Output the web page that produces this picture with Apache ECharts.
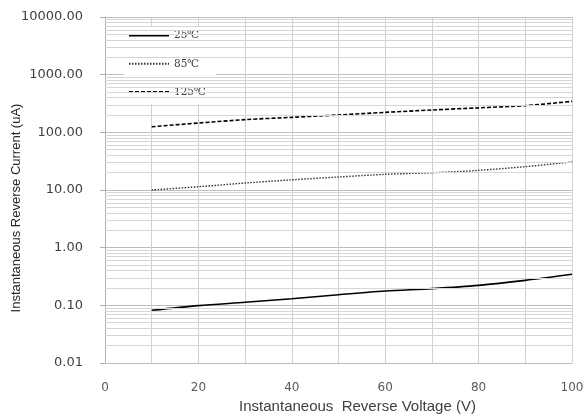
<!DOCTYPE html>
<html>
<head>
<meta charset="utf-8">
<script src="https://cdn.jsdelivr.net/npm/echarts@6/dist/echarts.min.js"></script>
<style>
  html, body {margin: 0; padding: 0; background: #fff;}
  #chart {width: 584px; height: 419px;}
</style>
</head>
<body>
<div id="chart"></div>
<script>
// reverse voltage (V)
const voltage = [10, 20, 30, 40, 50, 60, 70, 80, 90, 100];
// reverse current (uA) per temperature
const current25 = [0.082, 0.099, 0.113, 0.13, 0.153, 0.177, 0.195, 0.222, 0.271, 0.345];
const current85 = [10.0, 11.4, 13.2, 15.0, 16.8, 18.7, 19.9, 21.9, 25.4, 30.6];
const current125 = [125, 145, 166, 182, 200, 222, 244, 266, 290, 345];
const seriesNames = ['25℃', '85℃', '125℃'];
const xLabels = [0, 20, 40, 60, 80, 100];
// minor log grid lines 2..9 in each decade
const decades = [0.01, 0.1, 1, 10, 100, 1000];
const minorSteps = [2, 3, 4, 5, 6, 7, 8, 9];

const pairs = arr => voltage.map((v, i) => [v, arr[i]]);
const minorLines = [];
decades.forEach(d => minorSteps.forEach(s => minorLines.push({yAxis: +(d * s).toPrecision(3)})));

const chart = echarts.init(document.getElementById('chart'));
chart.setOption({
  animation: false,
  grid: {left: 105, right: 12, top: 17, bottom: 56, outerBoundsMode: 'none', containLabel: false},
  legend: {
    data: seriesNames,
    orient: 'vertical',
    left: 124,
    top: 26,
    itemWidth: 40,
    itemHeight: 14,
    itemGap: 17,
    backgroundColor: '#fff',
    padding: [4, 10, 6, 4],
    itemStyle: {opacity: 0},
    lineStyle: {width: 2},
    textStyle: {fontFamily: 'DejaVu Serif', fontSize: 10.5, color: '#404040'},
  },
  xAxis: {
    type: 'value',
    min: 0,
    max: 100,
    interval: 10,
    name: 'Instantaneous  Reverse Voltage (V)',
    nameLocation: 'middle',
    nameGap: 36,
    nameMoveOverlap: false,
    nameTextStyle: {fontFamily: 'Liberation Sans', fontSize: 15, color: '#404040', padding: [0, 0, 0, 38]},
    axisLine: {show: false},
    axisTick: {show: false},
    axisLabel: {
      margin: 19,
      fontFamily: 'DejaVu Sans',
      fontSize: 12,
      color: '#595959',
      formatter: v => (xLabels.indexOf(v) >= 0 ? String(v) : ''),
    },
    splitLine: {show: true, lineStyle: {color: '#d0d0d0', width: 1}},
  },
  yAxis: {
    type: 'log',
    logBase: 10,
    min: 0.01,
    max: 10000,
    name: 'Instantaneous Reverse Current (uA)',
    nameLocation: 'middle',
    nameGap: 82,
    nameRotate: 90,
    nameMoveOverlap: false,
    nameTextStyle: {fontFamily: 'Liberation Sans', fontSize: 13, color: '#262626', padding: [0, 36, 0, 0]},
    axisLine: {show: true, lineStyle: {color: '#b0b0b0'}},
    axisTick: {show: true, length: 5, lineStyle: {color: '#b0b0b0'}},
    axisLabel: {
      margin: 22,
      fontFamily: 'DejaVu Sans',
      fontSize: 13,
      color: '#404040',
      formatter: v => Number(v).toFixed(2),
    },
    splitLine: {show: true, lineStyle: {color: '#bdbdbd', width: 1}},
  },
  series: [
    {
      name: 'grid',
      type: 'line',
      data: [],
      silent: true,
      z: 1,
      markLine: {
        silent: true,
        symbol: 'none',
        label: {show: false},
        lineStyle: {color: '#d6d6d6', type: 'solid', width: 1},
        data: minorLines,
      },
    },
    {
      name: seriesNames[0],
      type: 'line',
      data: pairs(current25),
      symbol: 'none',
      smooth: 0.3,
      z: 3,
      color: '#000',
      lineStyle: {color: '#000', width: 1.6, type: 'solid'},
    },
    {
      name: seriesNames[1],
      type: 'line',
      data: pairs(current85),
      symbol: 'none',
      smooth: 0.3,
      z: 3,
      color: '#333',
      lineStyle: {color: '#333', width: 1.4, type: [1.5, 1.5]},
    },
    {
      name: seriesNames[2],
      type: 'line',
      data: pairs(current125),
      symbol: 'none',
      smooth: 0.3,
      z: 3,
      color: '#000',
      lineStyle: {color: '#000', width: 1.6, type: [4, 2]},
    },
  ],
});
</script>
</body>
</html>
